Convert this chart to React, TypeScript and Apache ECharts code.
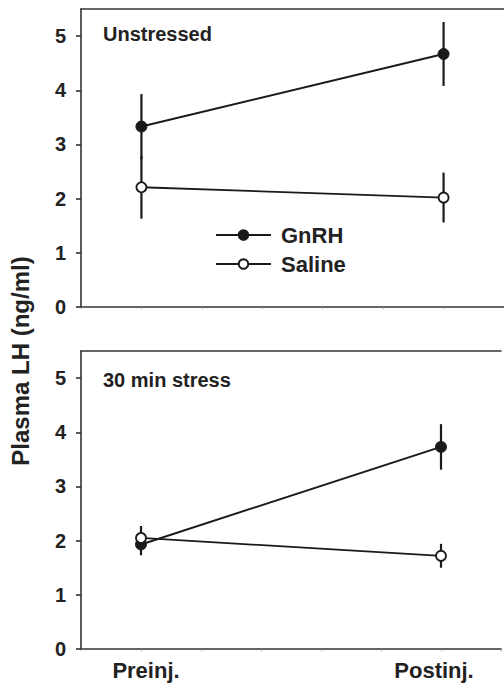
import React, { useEffect, useRef } from "react";
import * as echarts from "echarts";

const CATEGORIES = ["Preinj.", "Postinj."];
const X_POS = [1, 2];
const Y_TICKS = [0, 1, 2, 3, 4, 5];

const UNSTRESSED_GNRH = [3.33, 4.67];
const UNSTRESSED_GNRH_ERR = [0.6, 0.59];
const UNSTRESSED_SALINE = [2.21, 2.02];
const UNSTRESSED_SALINE_ERR = [0.58, 0.46];

const STRESS_GNRH = [1.93, 3.73];
const STRESS_GNRH_ERR = [0.2, 0.42];
const STRESS_SALINE = [2.05, 1.72];
const STRESS_SALINE_ERR = [0.22, 0.22];

const PANEL_TITLES = ["Unstressed", "30 min stress"];
const Y_TITLE = "Plasma LH (ng/ml)";

const INK = "#1a1a1a";
const FONT = "'Liberation Sans', Arial, Helvetica, sans-serif";

function points(vals: number[]) {
  return X_POS.map((x, i) => [x, vals[i]]);
}
function errData(vals: number[], errs: number[]) {
  return X_POS.map((x, i) => [x, vals[i] - errs[i], vals[i] + errs[i]]);
}

export default function App() {
  const ref = useRef<HTMLDivElement>(null);
  useEffect(() => {
    if (!ref.current) return;
    const chart = echarts.init(ref.current, undefined, { renderer: "svg" });

    const grids = [
      { left: 81, width: 425, top: 9, height: 298 },
      { left: 81, width: 425, top: 351, height: 298 },
    ];

    const xAxes: any[] = [];
    grids.forEach((_, gi) => {
      xAxes.push({
        type: "value",
        gridIndex: gi,
        position: "bottom",
        min: 0.8,
        max: 2.2,
        interval: 0.2,
        splitLine: { show: false },
        axisLine: { show: true, lineStyle: { color: "#333", width: 1.6 } },
        axisTick: { show: true, length: 2, lineStyle: { color: "#999", width: 1 } },
        axisLabel: {
          show: gi === 1,
          margin: 10,
          formatter: (v: number) => {
            if (Math.abs(v - X_POS[0]) < 1e-6) return "{a|" + CATEGORIES[0] + "}";
            if (Math.abs(v - X_POS[1]) < 1e-6) return "{b|" + CATEGORIES[1] + "}";
            return "";
          },
          rich: {
            a: { fontSize: 22, fontWeight: "bold", color: "#222", fontFamily: FONT, padding: [0, 0, 0, 10] },
            b: { fontSize: 22, fontWeight: "bold", color: "#222", fontFamily: FONT, padding: [0, 14, 0, 0] },
          },
        },
      });
      xAxes.push({
        type: "value",
        gridIndex: gi,
        position: "top",
        min: 0.8,
        max: 2.2,
        interval: 0.2,
        splitLine: { show: false },
        axisLine: { show: true, lineStyle: { color: "#333", width: 1.6 } },
        axisTick: { show: false },
        axisLabel: { show: false },
      });
    });

    const yAxes = grids.map((_, gi) => ({
      type: "value",
      gridIndex: gi,
      min: 0,
      max: 5.5,
      interval: 1,
      splitLine: { show: false },
      axisLine: { show: true, lineStyle: { color: "#333", width: 1.6 } },
      axisTick: { show: true, length: 5, lineStyle: { color: "#333", width: 1.6 } },
      axisLabel: {
        margin: 15,
        fontSize: 20,
        fontWeight: "bold",
        color: "#222",
        fontFamily: FONT,
        showMaxLabel: false,
        formatter: (v: number) => (Y_TICKS.includes(v) ? String(v) : ""),
      },
    }));

    const panels = [
      { g: UNSTRESSED_GNRH, ge: UNSTRESSED_GNRH_ERR, s: UNSTRESSED_SALINE, se: UNSTRESSED_SALINE_ERR },
      { g: STRESS_GNRH, ge: STRESS_GNRH_ERR, s: STRESS_SALINE, se: STRESS_SALINE_ERR },
    ];

    const series: any[] = [];
    panels.forEach((p, gi) => {
      const xi = gi * 2;
      [errData(p.g, p.ge), errData(p.s, p.se)].forEach((d) => {
        series.push({
          type: "custom",
          xAxisIndex: xi,
          yAxisIndex: gi,
          z: 1,
          silent: true,
          encode: { x: 0, y: [1, 2] },
          data: d,
          renderItem: (params: any, api: any) => {
            const x = api.value(0);
            const p1 = api.coord([x, api.value(1)]);
            const p2 = api.coord([x, api.value(2)]);
            return {
              type: "line",
              shape: { x1: p1[0], y1: p1[1], x2: p2[0], y2: p2[1] },
              style: { stroke: INK, lineWidth: 2.2 },
            };
          },
        });
      });
      series.push({
        name: "GnRH",
        type: "line",
        xAxisIndex: xi,
        yAxisIndex: gi,
        z: 3,
        data: points(p.g),
        symbol: "circle",
        symbolSize: 11,
        itemStyle: { color: INK, borderColor: INK, borderWidth: 1 },
        lineStyle: { color: INK, width: 2 },
      });
      series.push({
        name: "Saline",
        type: "line",
        xAxisIndex: xi,
        yAxisIndex: gi,
        z: 3,
        data: points(p.s),
        symbol: "circle",
        symbolSize: 10,
        itemStyle: { color: "#fff", borderColor: INK, borderWidth: 1.8 },
        lineStyle: { color: INK, width: 1.8 },
      });
    });

    chart.setOption({
      animation: false,
      backgroundColor: "#fff",
      grid: grids,
      xAxis: xAxes,
      yAxis: yAxes,
      legend: {
        data: ["GnRH", "Saline"],
        orient: "vertical",
        left: 210,
        top: 219,
        itemWidth: 55,
        itemHeight: 12,
        itemGap: 7,
        selectedMode: false,
        textStyle: {
          fontSize: 22,
          fontWeight: "bold",
          color: "#222",
          fontFamily: FONT,
          lineHeight: 22,
          padding: [0, 0, 0, 5],
        },
      },
      graphic: [
        {
          type: "text",
          left: 103,
          top: 24,
          style: { text: PANEL_TITLES[0], fontSize: 20, fontWeight: "bold", fill: "#222", fontFamily: FONT },
        },
        {
          type: "text",
          left: 103,
          top: 370,
          style: { text: PANEL_TITLES[1], fontSize: 20, fontWeight: "bold", fill: "#222", fontFamily: FONT },
        },
        {
          type: "text",
          x: 20,
          y: 361,
          rotation: Math.PI / 2,
          style: {
            text: Y_TITLE,
            fontSize: 24,
            fontWeight: "bold",
            fill: "#222",
            fontFamily: FONT,
            align: "center",
            verticalAlign: "middle",
          },
        },
      ],
      series,
    });
    return () => chart.dispose();
  }, []);

  return (
    <div
      ref={ref}
      style={{ position: "absolute", left: 0, top: 0, width: 504, height: 685 }}
    />
  );
}
